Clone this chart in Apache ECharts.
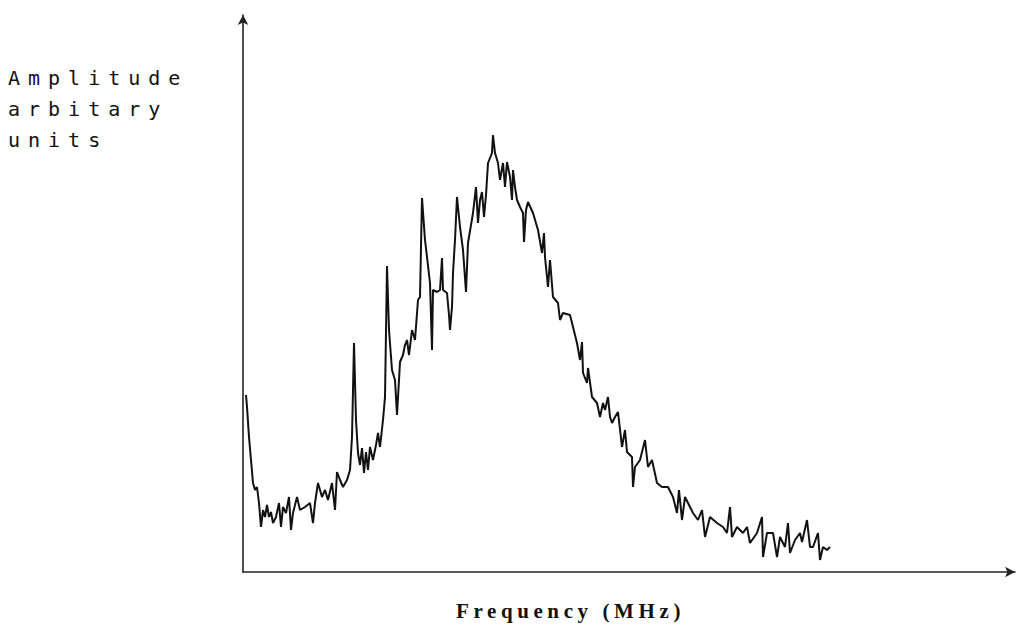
<!DOCTYPE html>
<html>
<head>
<meta charset="utf-8">
<script src="https://cdn.jsdelivr.net/npm/echarts@6/dist/echarts.min.js"></script>
<style>
  html, body { margin: 0; padding: 0; background: #fff; }
  #chart { width: 1023px; height: 634px; }
  /* printer-like wide letter spacing of the original labels */
  #chart text[style*="DejaVu Sans Mono"] { letter-spacing: 8px; }
  #chart text[style*="Liberation Serif"] { letter-spacing: 4.6px; }
</style>
</head>
<body>
<div id="chart"></div>
<script>
// frequency (arbitrary units along the axis) and amplitude (arbitrary units)
const freq = [
  3, 4, 6, 8, 10, 12, 14, 16, 18, 20, 22, 24, 26, 28, 30, 33, 36, 38, 40, 43,
  46, 48, 50, 54, 57, 62, 67, 70, 72, 75, 79, 82, 85, 89, 92, 94, 97, 100, 104, 107,
  109, 111, 113, 115, 117, 119, 121, 123, 125, 127, 130, 133, 135, 137, 140, 142, 144, 146, 149, 152,
  154, 157, 160, 162, 164, 166, 169, 172, 175, 177, 179, 182, 184, 187, 189, 190, 194, 197, 199, 200,
  204, 206, 207, 209, 210, 212, 214, 217, 220, 223, 225, 228, 230, 233, 235, 237, 239, 241, 243, 245,
  249, 250, 252, 255, 257, 260, 262, 264, 267, 269, 270, 272, 274, 277, 280, 281, 283, 285, 290, 295,
  299, 301, 302, 305, 307, 310, 315, 317, 320, 327, 334, 337, 339, 340, 344, 345, 349, 354, 357, 360,
  362, 365, 367, 369, 372, 375, 379, 382, 384, 387, 389, 390, 392, 397, 402, 405, 409, 414, 419, 425,
  430, 434, 436, 439, 442, 447, 450, 455, 459, 462, 467, 474, 480, 484, 487, 489, 494, 500, 504, 507,
  514, 519, 520, 524, 530, 534, 537, 542, 545, 547, 552, 557, 559, 564, 567, 570, 575, 577, 580, 584,
  587
];
const amp = [
  177, 165, 135, 112, 89, 82, 85, 69, 45, 62, 55, 67, 55, 60, 49, 55, 69, 45, 65, 59,
  75, 42, 59, 75, 62, 65, 69, 49, 69, 89, 75, 82, 72, 89, 62, 100, 92, 85, 92, 102,
  135, 229, 152, 119, 107, 124, 99, 120, 102, 125, 112, 127, 139, 125, 152, 175, 306, 242, 202, 192,
  157, 210, 217, 227, 232, 217, 242, 232, 272, 275, 374, 332, 315, 289, 222, 282, 280, 282, 314, 282,
  279, 257, 242, 265, 299, 332, 375, 345, 322, 280, 329, 347, 359, 385, 349, 372, 380, 355, 377, 409,
  419, 437, 419, 409, 392, 409, 385, 410, 395, 372, 402, 385, 372, 365, 359, 330, 362, 370, 359, 342,
  319, 339, 315, 285, 312, 275, 269, 252, 259, 257, 229, 212, 230, 199, 189, 204, 175, 169, 155, 169,
  162, 175, 155, 149, 155, 160, 125, 142, 120, 117, 115, 85, 105, 112, 132, 105, 112, 89, 85, 85,
  75, 59, 82, 52, 75, 65, 59, 52, 62, 35, 55, 49, 45, 39, 65, 35, 45, 39, 45, 29,
  39, 55, 15, 39, 39, 15, 35, 25, 49, 19, 32, 39, 30, 52, 25, 25, 39, 12, 25, 22,
  25
];
const xName = "Frequency (MHz)";
const yName = "Amplitude\narbitary\nunits";

const chart = echarts.init(document.getElementById("chart"), null, { renderer: "svg" });

const axisCommon = {
  type: "value",
  min: 0,
  axisLine: {
    show: true,
    symbol: ["none", "arrow"],
    symbolSize: [8, 10],
    lineStyle: { color: "#222", width: 1.6 },
  },
  axisTick: { show: false },
  axisLabel: { show: false },
  splitLine: { show: false },
};

chart.setOption({
  animation: false,
  backgroundColor: "#ffffff",
  grid: { left: 243, right: 8, top: 15, bottom: 62 },
  xAxis: Object.assign({}, axisCommon, { max: 772 }),
  yAxis: Object.assign({}, axisCommon, { max: 557 }),
  graphic: [
    {
      type: "text",
      left: 8,
      top: 62,
      style: {
        text: yName,
        font: '20px "DejaVu Sans Mono"',
        lineHeight: 31,
        fill: "#111",
      },
    },
    {
      type: "text",
      left: 456,
      top: 600,
      style: {
        text: xName,
        font: 'bold 21px "Liberation Serif"',
        fill: "#111",
      },
    },
  ],
  series: [
    {
      type: "line",
      data: freq.map((f, i) => [f, amp[i]]),
      showSymbol: false,
      lineStyle: { color: "#111", width: 2 },
    },
  ],
});
</script>
</body>
</html>
